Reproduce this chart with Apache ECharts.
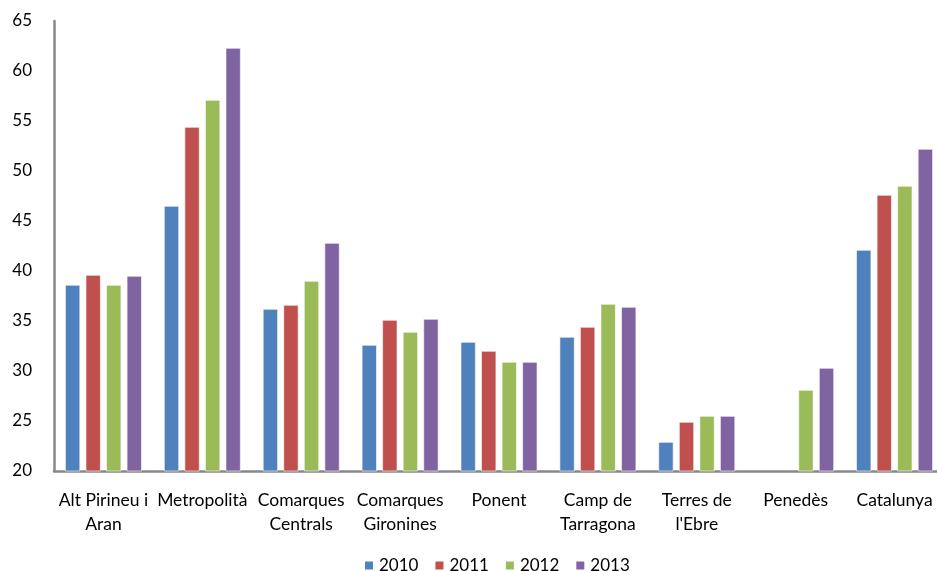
<!DOCTYPE html>
<html lang="ca">
	<head>
		<meta charset="utf-8" />
		<title>Bar chart</title>
	</head>
	<body>
		<div id="chart-container"></div>
		<script src="https://cdn.jsdelivr.net/npm/echarts@6/dist/echarts.min.js"></script>
	</body>
	<style>
		* {
			margin: 0;
			padding: 0;
		}

		#chart-container {
			position: relative;
			width: 937px;
			height: 571px;
			overflow: hidden;
			background: #fff;
		}
	</style>
	<script>
		var categories = [
			"Alt Pirineu i\nAran",
			"Metropolità",
			"Comarques\nCentrals",
			"Comarques\nGironines",
			"Ponent",
			"Camp de\nTarragona",
			"Terres de\nl'Ebre",
			"Penedès",
			"Catalunya",
		];
		var years = ["2010", "2011", "2012", "2013"];
		var v2010 = [38.6, 46.5, 36.2, 32.6, 32.9, 33.4, 22.9, null, 42.1];
		var v2011 = [39.6, 54.4, 36.6, 35.1, 32.0, 34.4, 24.9, null, 47.6];
		var v2012 = [38.6, 57.1, 39.0, 33.9, 30.9, 36.7, 25.5, 28.1, 48.5];
		var v2013 = [39.5, 62.3, 42.8, 35.2, 30.9, 36.4, 25.5, 30.3, 52.2];
		var colors = ["#4F81BD", "#C0504D", "#9BBB59", "#8064A2"];

		var dom = document.getElementById("chart-container");
		var myChart = echarts.init(dom, null, { renderer: "canvas" });

		var font = "Lato";
		var values = [v2010, v2011, v2012, v2013];
		var series = [];
		for (let i = 0; i < years.length; i++) {
			series.push({
				name: years[i],
				type: "bar",
				data: values[i],
				barWidth: 15,
				barGap: "37%",
				itemStyle: {
					color: colors[i],
					borderColor: "#fff",
					borderWidth: 0.6,
				},
			});
		}

		var option = {
			animation: false,
			color: colors,
			textStyle: { fontFamily: font },
			grid: {
				left: 54,
				right: -7,
				top: 21,
				bottom: 100,
				containLabel: false,
				outerBoundsMode: "none",
			},
			legend: {
				data: years,
				top: 557,
				left: 363,
				padding: 0,
				itemWidth: 10,
				itemHeight: 10,
				itemGap: 15,
				icon: "rect",
				textStyle: { fontSize: 17, color: "#000", fontFamily: font },
			},
			xAxis: {
				type: "category",
				data: categories,
				axisLine: { lineStyle: { color: "#888", width: 2.5 } },
				axisTick: { show: false },
				axisLabel: {
					interval: 0,
					margin: 17,
					fontSize: 17.5,
					lineHeight: 24,
					color: "#000",
					fontFamily: font,
				},
			},
			yAxis: {
				type: "value",
				min: 20,
				max: 65,
				interval: 5,
				axisLine: { show: true, lineStyle: { color: "#888", width: 2.5 } },
				axisTick: { show: false },
				splitLine: { show: false },
				axisLabel: {
					margin: 22,
					fontSize: 17,
					color: "#000",
					fontFamily: font,
				},
			},
			series: series,
		};

		myChart.setOption(option);
		window.addEventListener("resize", myChart.resize);
	</script>
</html>
